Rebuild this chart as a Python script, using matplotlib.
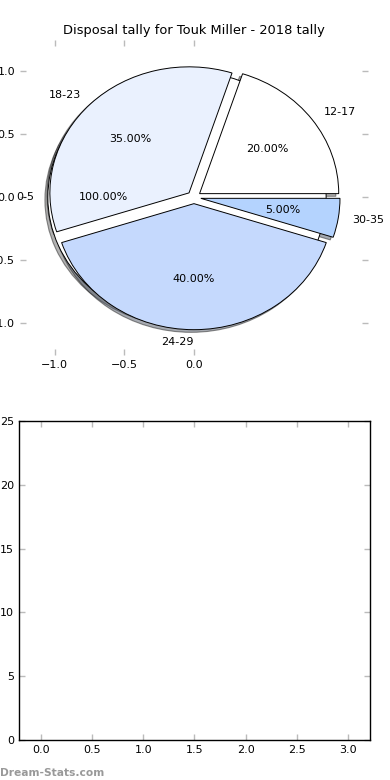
import matplotlib
matplotlib.use('Agg')
import matplotlib.pyplot as plt

chartTitle = 'Disposal tally for Touk Miller - 2018 tally'

# first pie left on the axes (single bucket)
baseLabels = ['0-5']
baseValues = [1]
baseColours = ['#ffffff']

# 2018 disposal tally by bucket (percent)
ageGroups = ['12-17', '18-23', '24-29', '30-35']
tally = [20, 35, 40, 5]
sliceColours = ['#ffffff', '#eaf1fe', '#c5d9fd', '#b4d3fe']

pieXTicks = [-1.0, -0.5, 0.0]
pieYTicks = [-1.0, -0.5, 0.0, 0.5, 1.0]
barYTicks = [0, 5, 10, 15, 20, 25]
barXTicks = [0.0, 0.5, 1.0, 1.5, 2.0, 2.5, 3.0]

plt.rcParams['font.family'] = 'DejaVu Sans'
plt.rcParams['font.size'] = 8

fig = plt.figure(figsize=(3.9, 7.8), dpi=100)

wedgeStyle = {'edgecolor': 'black', 'linewidth': 0.7}
shadowStyle = {'ox': -0.015, 'oy': -0.015, 'shade': 0.6, 'edgecolor': '#222222',
               'linewidth': 0.8}
tickGrey = '#bbbbbb'

# Pie
axPie = fig.add_axes([0.0513, 0.545, 0.892, 0.404])
axPie.pie(baseValues, labels=baseLabels, colors=baseColours, explode=[0.05],
          autopct='%.2f%%', shadow=shadowStyle, wedgeprops=wedgeStyle,
          textprops={'fontsize': 8})
wedges, labelTexts, pctTexts = axPie.pie(
    tally, labels=ageGroups, colors=sliceColours, explode=[0.05] * len(tally),
    autopct='%.2f%%', shadow=shadowStyle, wedgeprops=wedgeStyle,
    textprops={'fontsize': 8})
# bottom label sits just left of centre, like the old renderer did
for t in labelTexts:
    if abs(t.get_position()[0]) < 1e-6:
        t.set_ha('right')
axPie.set_aspect('auto')
axPie.set_xlim(-1.25, 1.25)
axPie.set_ylim(-1.25, 1.25)
axPie.set_xticks(pieXTicks)
axPie.set_yticks(pieYTicks)
axPie.tick_params(direction='in', length=4, width=1, color=tickGrey,
                  top=True, right=True, labelsize=8)
axPie.set_title(chartTitle, fontsize=9.4, pad=4)

# Empty tally axes
axBar = fig.add_axes([0.0487, 0.0513, 0.9, 0.409])
axBar.set_xlim(-0.22, 3.22)
axBar.set_ylim(0, 25)
axBar.set_xticks(barXTicks)
axBar.set_yticks(barYTicks)
axBar.tick_params(direction='in', length=4, width=1, color=tickGrey,
                  top=True, right=True, labelsize=8)
for spine in axBar.spines.values():
    spine.set_linewidth(1)

fig.text(0.0, 0.003, 'Dream-Stats.com', color='#999999', fontsize=7.7,
         fontweight='bold', ha='left', va='bottom')

fig.savefig('out.png', dpi=100)
